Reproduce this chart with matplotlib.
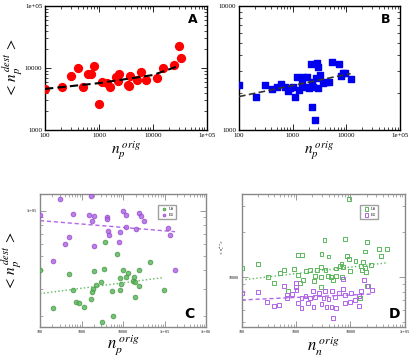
import numpy as np
import matplotlib
matplotlib.use('Agg')
from matplotlib import pyplot as plt
from matplotlib.ticker import FixedLocator, FixedFormatter, LogLocator, NullFormatter

plt.rcParams['font.family'] = 'Liberation Serif'
plt.rcParams['mathtext.fontset'] = 'stix'

# panel A
a_x = [100, 204, 300, 405, 500, 615, 700, 810, 1000, 1120, 1390, 1590, 2060, 2380, 2290,
       3480, 3720, 3630, 5000, 5880, 7570, 11800, 15500, 24400, 30000, 32400]
a_y = [4530, 5000, 7440, 9850, 5000, 7900, 7900, 10800, 2630, 6000, 5780, 4890, 7070, 8000, 6160,
       5330, 7440, 5120, 6410, 8600, 6410, 6800, 10100, 11000, 22600, 14500]
a_fit_x = [100, 1000, 10000, 30000]
a_fit_y = [4600, 5700, 7700, 10800]

# panel B
b_x = [100, 205, 310, 405, 500, 615, 720, 830, 910, 1020, 1100, 1230, 1320, 1470, 1580, 1770,
       1870, 2040, 2170, 2260, 2310, 2410, 2630, 2710, 2800, 3000, 3000, 3230, 3710, 4170,
       4660, 5340, 7390, 8090, 8770, 9560, 12100]
b_y = [2290, 1860, 2290, 2130, 2240, 2340, 2210, 2070, 2200, 2240, 1860, 2690, 2100, 2380, 2690, 2240,
       2690, 2170, 3390, 2450, 1540, 2210, 1200, 2610, 3450, 3200, 2170, 2770, 2410, 2450,
       2460, 3520, 3390, 2730, 2860, 2900, 2580]
b_fit_x = [100, 12000]
b_fit_y = [1860, 2850]

# panel C
c_eu_x = [300, 1740, 100, 610, 1510, 2000, 1840, 4170, 4170, 10000, 11500, 23900, 27500, 31700,
          11700, 8610, 4270, 4520, 7850, 500, 400, 1950, 202, 119000, 138000, 180000, 20900]
c_eu_y = [120000, 125000, 93600, 95500, 93600, 92200, 85800, 91200, 87700, 100000, 93100, 97000,
          92600, 85300, 78200, 72100, 72900, 68900, 61800, 67100, 60000, 58400, 46200, 77100,
          69200, 40100, 75500]
c_us_x = [100, 500, 2000, 3630, 7300, 3490, 10000, 24600, 45200, 13100, 11500, 8280, 17900, 17300,
          19300, 2900, 2290, 8710, 24000, 1900, 610, 5530, 8280, 1770, 1740, 730, 850, 1140, 202,
          19000, 99500, 5730, 3190]
c_us_y = [40100, 37800, 39500, 61500, 51400, 40800, 40300, 40500, 45700, 38300, 36300, 35600, 35900,
          33800, 33600, 33500, 32000, 32300, 31600, 30200, 29500, 29200, 29600, 28600, 25700, 24700,
          24100, 22800, 22600, 26500, 29600, 20000, 18200]
c_eu_fit_x = [100, 180000]
c_eu_fit_y = [85800, 72400]
c_us_fit_x = [100, 90600]
c_us_fit_y = [28000, 35800]

# panel D
d_us_x = [9420, 3330, 7850, 20200, 33000, 47700, 18500, 36000, 1090, 1300, 2940, 3950, 8810, 9310,
          197, 100, 910, 500, 605, 300, 396, 1070, 1510, 1820, 2410, 2850, 3480, 5370, 6360, 6840,
          7310, 12400, 17000, 24300, 15500, 18800, 9700, 16300, 19700, 2210, 2850, 3880, 4350,
          4800, 5530, 7010, 1350, 1170, 2150, 2850, 698, 15000, 20500]
d_us_y = [33300, 17600, 18000, 17100, 15300, 15400, 14800, 13800, 14100, 14100, 14200, 13700, 13900,
          13200, 12300, 11500, 11300, 10600, 11100, 9950, 9160, 10300, 11000, 11100, 11100, 11700,
          11100, 11400, 11800, 12300, 11600, 12700, 12600, 12000, 11800, 11500, 10900, 11100, 10800,
          10200, 10000, 10200, 10000, 9550, 10200, 10000, 9550, 9160, 9450, 8610, 8070, 7280, 8750]
d_eu_x = [100, 197, 980, 990, 7310, 17800, 21000, 24900, 7310, 4590, 3370, 2010, 1020, 670, 848,
          590, 291, 396, 483, 687, 1260, 1490, 1790, 2210, 2620, 3200, 3950, 5150, 6100, 7850,
          10400, 12000, 14200, 15900, 1090, 1260, 2090, 2940, 3630, 4480, 5530, 7850, 9700, 14200,
          4800, 1670]
d_eu_y = [7850, 7940, 9160, 8610, 9660, 9550, 8710, 8190, 8360, 8110, 8110, 8070, 8190, 7590, 7710,
          8710, 6780, 6380, 6510, 7210, 7280, 7500, 7210, 7390, 7780, 7280, 7130, 7390, 7780, 7590,
          7780, 7030, 7470, 8070, 6680, 6180, 6280, 6610, 6280, 6340, 6180, 6680, 6840, 6380,
          5310, 6680]
d_us_fit_x = [100, 47700]
d_us_fit_y = [9550, 12450]
d_eu_fit_x = [100, 26000]
d_eu_fit_y = [7030, 7710]

green = '#5cb85c'
purple = '#b266e8'

fig = plt.figure(figsize=(4.11, 3.58), dpi=100)
axA = fig.add_axes([0.1095, 0.6369, 0.394, 0.3464])
axB = fig.add_axes([0.5815, 0.6369, 0.3917, 0.3464])
axC = fig.add_axes([0.0973, 0.0866, 0.404, 0.3715])
axD = fig.add_axes([0.588, 0.0866, 0.397, 0.3715])


def style(ax, xlim, ylim, xt, xl, yt, yl, fs, col):
    ax.set_xscale('log')
    ax.set_yscale('log')
    ax.set_xlim(xlim)
    ax.set_ylim(ylim)
    ax.xaxis.set_major_locator(FixedLocator(xt))
    ax.xaxis.set_major_formatter(FixedFormatter(xl))
    ax.yaxis.set_major_locator(FixedLocator(yt))
    ax.yaxis.set_major_formatter(FixedFormatter(yl))
    ax.xaxis.set_minor_locator(LogLocator(base=10, subs=np.arange(2, 10)))
    ax.yaxis.set_minor_locator(LogLocator(base=10, subs=np.arange(2, 10)))
    ax.xaxis.set_minor_formatter(NullFormatter())
    ax.yaxis.set_minor_formatter(NullFormatter())
    ax.tick_params(which='both', direction='in', top=True, right=True, labelsize=fs,
                   color=col, pad=2)
    ax.tick_params(which='major', length=4, width=0.6)
    ax.tick_params(which='minor', length=2, width=0.5)
    for s in ax.spines.values():
        s.set_color(col)
        s.set_linewidth(1.0)


# A
axA.scatter(a_x, a_y, s=32, color='red', zorder=3)
axA.plot(a_fit_x, a_fit_y, '--', color='black', lw=1.5, dashes=(4, 2), zorder=4)
style(axA, (100, 1e5), (1000, 1e5), [100, 1000, 10000, 1e5], ['100', '1000', '10000', '1e+05'],
      [1000, 10000, 1e5], ['1000', '10000', '1e+05'], 5, 'black')
axA.set_xlabel(r'$n_p^{\;orig}$', fontsize=11, va='center')
axA.set_ylabel(r'$<\,n_p^{\,dest}\,>$', fontsize=11, va='center')
axA.xaxis.set_label_coords(0.5, -0.17)
axA.yaxis.set_label_coords(-0.2, 0.5)
axA.text(0.88, 0.86, 'A', transform=axA.transAxes, fontsize=9, fontweight='bold',
         family='DejaVu Sans')

# B
axB.scatter(b_x, b_y, s=22, marker='s', color='#0000ee', zorder=3)
axB.plot(b_fit_x, b_fit_y, '--', color='#333333', lw=1.2, dashes=(4, 2), zorder=4)
style(axB, (100, 1e5), (1000, 10000), [100, 1000, 10000, 1e5], ['100', '1000', '10000', '1e+05'],
      [1000, 10000], ['1000', '10000'], 5, 'black')
axB.set_xlabel(r'$n_p^{\;orig}$', fontsize=11, va='center')
axB.xaxis.set_label_coords(0.5, -0.17)
axB.text(0.88, 0.86, 'B', transform=axB.transAxes, fontsize=9, fontweight='bold',
         family='DejaVu Sans')

# C
axC.scatter(c_us_x, c_us_y, s=12, color=green, alpha=0.85, edgecolors='#3d8b3d', linewidths=0.5,
            label='US', zorder=3)
axC.scatter(c_eu_x, c_eu_y, s=12, color=purple, alpha=0.85, edgecolors='#8a3fc0', linewidths=0.5,
            label='EU', zorder=3)
axC.plot(c_us_fit_x, c_us_fit_y, ':', color=green, lw=1.0, zorder=2)
axC.plot(c_eu_fit_x, c_eu_fit_y, '--', color=purple, lw=1.0, dashes=(3, 2), zorder=2)
style(axC, (100, 1e6), (16800, 129000), [100, 1000, 10000, 1e5, 1e6],
      ['100', '1000', '10000', '1e+05', '1e+06'], [1e5], ['1e+05'], 3, '#888888')
axC.set_xlabel(r'$n_p^{\;orig}$', fontsize=12, va='center')
axC.set_ylabel(r'$<\,n_p^{\,dest}\,>$', fontsize=11, va='center')
axC.xaxis.set_label_coords(0.5, -0.135)
axC.yaxis.set_label_coords(-0.17, 0.5)
axC.legend(loc='upper right', fontsize=3, markerscale=0.6, handletextpad=0.2, borderpad=0.4,
           fancybox=False, edgecolor='#888888', bbox_to_anchor=(0.83, 0.93))
axC.text(0.87, 0.07, 'C', transform=axC.transAxes, fontsize=10, fontweight='bold',
         family='DejaVu Sans')

# D
axD.scatter(d_us_x, d_us_y, s=8, marker='s', facecolors='none', edgecolors=green, linewidths=0.7,
            label='US', zorder=3)
axD.scatter(d_eu_x, d_eu_y, s=8, marker='s', facecolors='none', edgecolors=purple, linewidths=0.7,
            label='EU', zorder=3)
axD.plot(d_us_fit_x, d_us_fit_y, ':', color=green, lw=1.0, zorder=2)
axD.plot(d_eu_fit_x, d_eu_fit_y, '--', color=purple, lw=1.0, dashes=(3, 2), zorder=2)
style(axD, (100, 1e5), (4640, 35800), [100, 1000, 10000, 1e5],
      ['100', '1000', '10000', '1e+05'], [10000], ['10000'], 3, '#888888')
axD.set_xlabel(r'$n_n^{\;orig}$', fontsize=12, va='center')
axD.set_ylabel(r'$<n_n^{dest}>$', fontsize=3, va='center')
axD.xaxis.set_label_coords(0.5, -0.145)
axD.yaxis.set_label_coords(-0.12, 0.6)
axD.legend(loc='upper right', fontsize=3, markerscale=0.8, handletextpad=0.2, borderpad=0.4,
           fancybox=False, edgecolor='#888888', bbox_to_anchor=(0.85, 0.93))
axD.text(0.9, 0.07, 'D', transform=axD.transAxes, fontsize=10, fontweight='bold',
         family='DejaVu Sans')

fig.savefig('out.png', dpi=100)
